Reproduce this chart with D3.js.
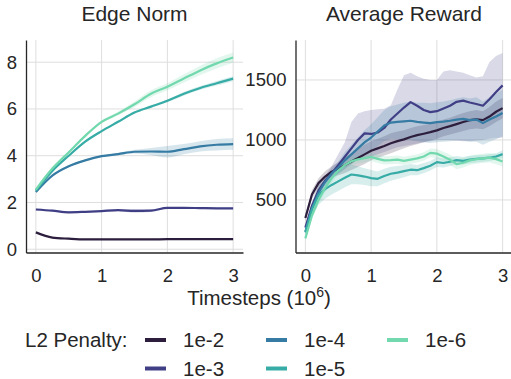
<!DOCTYPE html>
<html><head><meta charset="utf-8">
<script src="https://cdn.jsdelivr.net/npm/d3@7"></script>
<style>
body{margin:0;background:#fff;}
text{font-family:"Liberation Sans",Arial,sans-serif;fill:#262626;}
</style></head><body>
<svg id="c" width="511" height="379"></svg>
<script>
// ---------- data ----------
const seriesNames = ["1e-2", "1e-3", "1e-4", "1e-5", "1e-6"];
const colors = ["#2d1e3e", "#403f86", "#357ba3", "#37aca6", "#72d8ad"];
const xTicks = [0, 1, 2, 3];
const edgeTicks = [0, 2, 4, 6, 8];
const rewardTicks = [500, 1000, 1500];

// Edge Norm (timesteps in 1e6)
const edgeT = [0, 0.25, 0.5, 0.75, 1, 1.25, 1.5, 1.75, 2, 2.25, 2.5, 2.75, 3];
const edge_1e2 = [0.72, 0.5, 0.45, 0.42, 0.42, 0.42, 0.42, 0.42, 0.43, 0.43, 0.43, 0.43, 0.43];
const edge_1e3 = [1.7, 1.65, 1.58, 1.6, 1.63, 1.67, 1.64, 1.65, 1.77, 1.77, 1.76, 1.75, 1.75];
const edge_1e4 = [2.45, 3.15, 3.55, 3.8, 3.98, 4.07, 4.17, 4.18, 4.17, 4.28, 4.4, 4.47, 4.5];
const edge_1e5 = [2.5, 3.35, 4.0, 4.6, 5.05, 5.45, 5.85, 6.1, 6.35, 6.65, 6.9, 7.1, 7.3];
const edge_1e6 = [2.55, 3.45, 4.15, 4.85, 5.45, 5.8, 6.2, 6.65, 6.95, 7.3, 7.65, 7.95, 8.2];
const edgeCI_1e2 = [0.03, 0.03, 0.03, 0.03, 0.03, 0.03, 0.03, 0.03, 0.03, 0.03, 0.03, 0.04, 0.04];
const edgeCI_1e3 = [0.04, 0.04, 0.04, 0.04, 0.04, 0.05, 0.08, 0.06, 0.04, 0.04, 0.04, 0.04, 0.04];
const edgeCI_1e4 = [0.04, 0.04, 0.04, 0.04, 0.04, 0.05, 0.08, 0.15, 0.25, 0.22, 0.22, 0.25, 0.25];
const edgeCI_1e5 = [0.04, 0.04, 0.05, 0.05, 0.05, 0.05, 0.05, 0.05, 0.06, 0.08, 0.08, 0.1, 0.1];
const edgeCI_1e6 = [0.04, 0.05, 0.05, 0.06, 0.06, 0.08, 0.12, 0.15, 0.15, 0.18, 0.2, 0.22, 0.22];

// Average Reward
const rewT = [0, 0.1, 0.2, 0.3, 0.4, 0.5, 0.6, 0.7, 0.8, 0.9, 1.0, 1.1, 1.2, 1.3, 1.4, 1.5,
  1.6, 1.7, 1.8, 1.9, 2.0, 2.1, 2.2, 2.3, 2.4, 2.5, 2.6, 2.7, 2.8, 2.9, 3.0];
const rew_1e2 = [350, 545, 640, 695, 735, 760, 790, 820, 850, 880, 910, 930, 950, 972, 990, 1005,
  1025, 1040, 1052, 1065, 1080, 1100, 1115, 1132, 1150, 1165, 1172, 1165, 1195, 1235, 1265];
const rewLo_1e2 = [320, 510, 600, 650, 690, 705, 725, 750, 775, 800, 830, 850, 870, 890, 910, 930,
  950, 965, 980, 995, 1010, 1030, 1045, 1060, 1075, 1090, 1095, 1090, 1115, 1150, 1180];
const rewHi_1e2 = [380, 580, 680, 740, 780, 815, 855, 890, 925, 960, 990, 1010, 1030, 1055, 1070, 1080,
  1100, 1115, 1125, 1135, 1150, 1170, 1185, 1205, 1225, 1240, 1250, 1240, 1275, 1320, 1350];
const rew_1e3 = [270, 450, 580, 660, 720, 790, 860, 930, 1000, 1055, 1050, 1062, 1100, 1170, 1220, 1270,
  1315, 1285, 1250, 1232, 1240, 1262, 1285, 1318, 1328, 1312, 1300, 1285, 1340, 1400, 1455];
const rewLo_1e3 = [250, 420, 540, 620, 680, 720, 760, 800, 840, 850, 860, 880, 900, 920, 940, 950,
  960, 970, 980, 990, 1000, 1000, 1000, 995, 990, 990, 995, 1000, 1010, 1015, 1020];
const rewHi_1e3 = [290, 480, 620, 700, 780, 880, 980, 1150, 1220, 1240, 1250, 1255, 1260, 1290, 1420, 1540,
  1560, 1530, 1510, 1500, 1500, 1570, 1580, 1570, 1560, 1540, 1520, 1530, 1650, 1700, 1725];
const rew_1e4 = [235, 430, 560, 650, 720, 770, 830, 880, 930, 980, 1020, 1070, 1120, 1145, 1150, 1155,
  1160, 1150, 1145, 1140, 1148, 1152, 1160, 1170, 1175, 1165, 1170, 1140, 1170, 1195, 1225];
const rewLo_1e4 = [215, 405, 530, 615, 680, 720, 760, 800, 840, 880, 910, 950, 990, 1010, 1005, 1000,
  1000, 990, 980, 975, 980, 985, 990, 995, 995, 985, 985, 960, 985, 1005, 1030];
const rewHi_1e4 = [255, 455, 590, 685, 760, 820, 900, 960, 1020, 1080, 1130, 1190, 1250, 1280, 1295, 1310,
  1320, 1310, 1310, 1305, 1315, 1320, 1330, 1345, 1355, 1345, 1355, 1320, 1355, 1385, 1420];
const rew_1e5 = [230, 420, 540, 590, 625, 655, 685, 712, 705, 695, 682, 676, 700, 718, 728, 740,
  752, 748, 765, 785, 815, 808, 818, 832, 826, 836, 842, 846, 852, 862, 882];
const rewLo_1e5 = [200, 360, 460, 510, 545, 575, 605, 630, 630, 625, 615, 615, 640, 660, 675, 690,
  705, 705, 722, 745, 775, 770, 782, 798, 795, 805, 812, 818, 825, 835, 850];
const rewHi_1e5 = [260, 480, 620, 670, 705, 735, 765, 795, 780, 765, 750, 738, 760, 776, 782, 790,
  800, 792, 808, 825, 855, 846, 855, 866, 858, 868, 872, 875, 880, 890, 915];
const rew_1e6 = [180, 370, 500, 600, 680, 745, 790, 822, 838, 848, 858, 842, 830, 832, 836, 826,
  836, 846, 862, 892, 886, 862, 835, 798, 810, 830, 840, 846, 852, 840, 820];
const rewLo_1e6 = [160, 340, 465, 565, 645, 710, 755, 788, 805, 815, 825, 808, 796, 798, 802, 792,
  802, 812, 826, 855, 848, 822, 792, 755, 770, 792, 802, 808, 812, 798, 778];
const rewHi_1e6 = [200, 400, 535, 635, 715, 780, 825, 856, 871, 881, 891, 876, 864, 866, 870, 860,
  870, 880, 898, 929, 924, 902, 878, 841, 850, 868, 878, 884, 892, 882, 862];

// ---------- drawing ----------
const svg = d3.select("#c");
const plotTop = 40, plotBottom = 252.5;
const FONT = '"Liberation Sans",Arial,sans-serif';

function panel(x0, x1, yDomain, yTicks, title, series, curve) {
  const x = d3.scaleLinear().domain([-0.15, 3.15]).range([x0, x1]);
  const y = d3.scaleLinear().domain(yDomain).range([plotBottom, plotTop]);
  const g = svg.append("g");
  const clipId = "clip" + Math.round(x0);
  svg.append("clipPath").attr("id", clipId).append("rect")
    .attr("x", x0).attr("y", plotTop).attr("width", x1 - x0).attr("height", plotBottom - plotTop);
  // grid
  g.selectAll(".gx").data(xTicks).enter().append("line")
    .attr("x1", d => x(d)).attr("x2", d => x(d)).attr("y1", plotTop).attr("y2", plotBottom)
    .attr("stroke", "#dedede").attr("stroke-width", 1);
  g.selectAll(".gy").data(yTicks).enter().append("line")
    .attr("x1", x0).attr("x2", x1).attr("y1", d => y(d)).attr("y2", d => y(d))
    .attr("stroke", "#dedede").attr("stroke-width", 1);
  const pg = g.append("g").attr("clip-path", `url(#${clipId})`);
  series.forEach((s, i) => {
    const pts = s.t.map((t, k) => ({t, v: s.v[k], lo: s.lo[k], hi: s.hi[k]}));
    pg.append("path").datum(pts)
      .attr("d", d3.area().x(d => x(d.t)).y0(d => y(d.lo)).y1(d => y(d.hi)).curve(curve))
      .attr("fill", colors[i]).attr("fill-opacity", 0.2).attr("stroke", "none");
  });
  series.forEach((s, i) => {
    const pts = s.t.map((t, k) => ({t, v: s.v[k]}));
    pg.append("path").datum(pts)
      .attr("d", d3.line().x(d => x(d.t)).y(d => y(d.v)).curve(curve))
      .attr("fill", "none").attr("stroke", colors[i]).attr("stroke-width", 2.2)
      .attr("stroke-linejoin", "round");
  });
  // axes (spines + labels)
  const ax = g.append("g").attr("transform", `translate(0,${plotBottom})`)
    .call(d3.axisBottom(x).tickValues(xTicks).tickSize(0).tickPadding(16).tickFormat(d3.format("d")));
  const ay = g.append("g").attr("transform", `translate(${x0},0)`)
    .call(d3.axisLeft(y).tickValues(yTicks).tickSize(0).tickPadding(9).tickFormat(d3.format("d")));
  [ax, ay].forEach(a => {
    a.select(".domain").attr("stroke", "#262626").attr("stroke-width", 1.3);
    a.selectAll("text").attr("font-size", 18.5).attr("fill", "#262626").attr("font-family", FONT);
  });
  g.append("text").attr("x", (x0 + x1) / 2).attr("y", 21).attr("text-anchor", "middle")
    .attr("font-size", 21).text(title);
}

panel(26, 243, [-0.14, 8.95], edgeTicks, "Edge Norm", [
  {t: edgeT, v: edge_1e2, lo: edge_1e2.map((v, k) => v - edgeCI_1e2[k]), hi: edge_1e2.map((v, k) => v + edgeCI_1e2[k])},
  {t: edgeT, v: edge_1e3, lo: edge_1e3.map((v, k) => v - edgeCI_1e3[k]), hi: edge_1e3.map((v, k) => v + edgeCI_1e3[k])},
  {t: edgeT, v: edge_1e4, lo: edge_1e4.map((v, k) => v - edgeCI_1e4[k]), hi: edge_1e4.map((v, k) => v + edgeCI_1e4[k])},
  {t: edgeT, v: edge_1e5, lo: edge_1e5.map((v, k) => v - edgeCI_1e5[k]), hi: edge_1e5.map((v, k) => v + edgeCI_1e5[k])},
  {t: edgeT, v: edge_1e6, lo: edge_1e6.map((v, k) => v - edgeCI_1e6[k]), hi: edge_1e6.map((v, k) => v + edgeCI_1e6[k])}
], d3.curveMonotoneX);

panel(295.5, 512.5, [62, 1833], rewardTicks, "Average Reward", [
  {t: rewT, v: rew_1e2, lo: rewLo_1e2, hi: rewHi_1e2},
  {t: rewT, v: rew_1e3, lo: rewLo_1e3, hi: rewHi_1e3},
  {t: rewT, v: rew_1e4, lo: rewLo_1e4, hi: rewHi_1e4},
  {t: rewT, v: rew_1e5, lo: rewLo_1e5, hi: rewHi_1e5},
  {t: rewT, v: rew_1e6, lo: rewLo_1e6, hi: rewHi_1e6}
], d3.curveLinear);

// x label
const xl = svg.append("text").attr("x", 259).attr("y", 305).attr("text-anchor", "middle").attr("font-size", 20.5);
xl.append("tspan").text("Timesteps (10");
xl.append("tspan").attr("font-size", 14).attr("dy", -8).text("6");
xl.append("tspan").attr("dy", 8).text(")");

// legend
svg.append("text").attr("x", 25).attr("y", 347).attr("font-size", 20.5).text("L2 Penalty:");
const legPos = [[145, 340], [145, 368.5], [266, 340], [266, 368.5], [387, 340]];
seriesNames.forEach((n, i) => {
  const [lx, ly] = legPos[i];
  svg.append("line").attr("x1", lx).attr("x2", lx + 21).attr("y1", ly).attr("y2", ly)
    .attr("stroke", colors[i]).attr("stroke-width", 4);
  svg.append("text").attr("x", lx + 38).attr("y", ly + 7).attr("font-size", 20.5).text(n);
});
</script>
</body></html>
